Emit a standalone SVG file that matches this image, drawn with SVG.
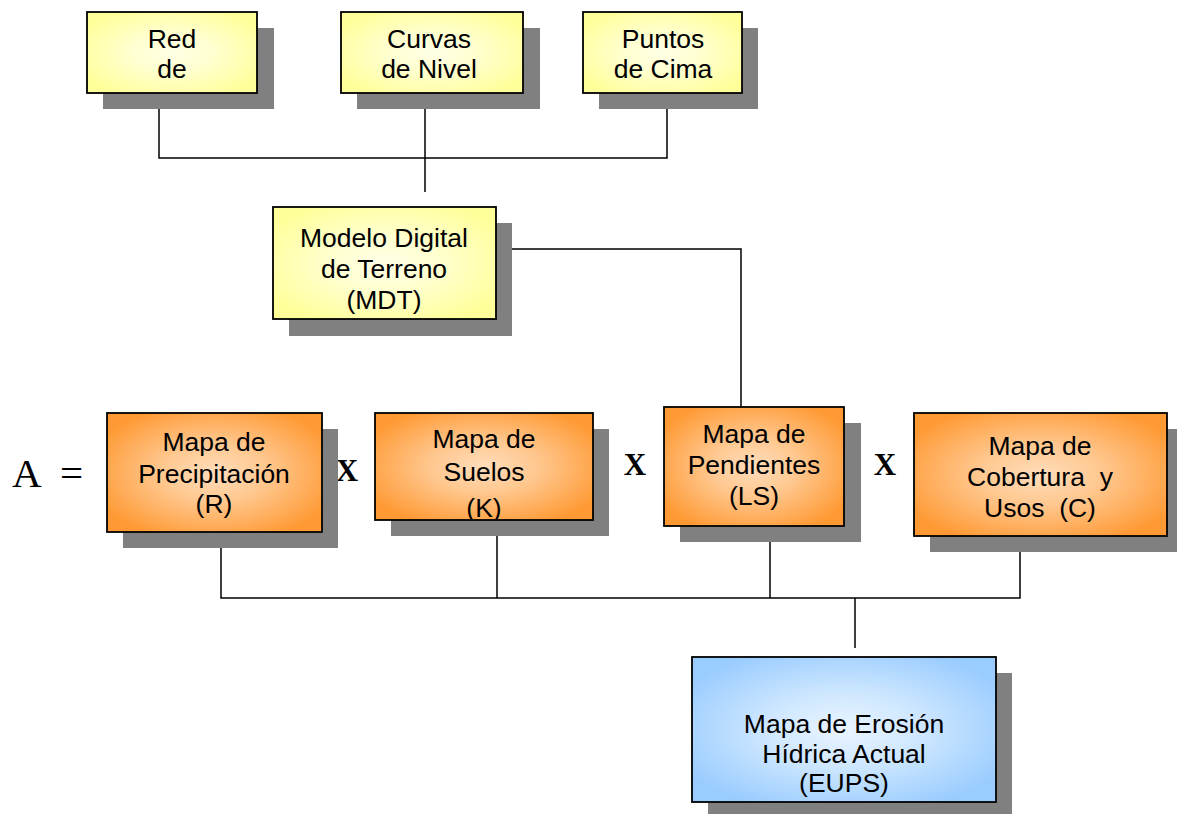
<svg xmlns="http://www.w3.org/2000/svg" width="1177" height="814" viewBox="0 0 1177 814">
<defs>
<radialGradient id="gy" cx="0.5" cy="0.5" r="0.6">
<stop offset="0" stop-color="#FFFFE6"/><stop offset="0.4" stop-color="#FFFFD0"/><stop offset="1" stop-color="#FFFF99"/>
</radialGradient>
<radialGradient id="go" cx="0.5" cy="0.5" r="0.6">
<stop offset="0" stop-color="#FFDDBB"/><stop offset="0.4" stop-color="#FFC890"/><stop offset="1" stop-color="#FF9933"/>
</radialGradient>
<radialGradient id="gb" cx="0.5" cy="0.5" r="0.6">
<stop offset="0" stop-color="#EAF4FF"/><stop offset="0.4" stop-color="#D0E8FF"/><stop offset="1" stop-color="#99CCFF"/>
</radialGradient>
<clipPath id="clipK"><rect x="376" y="414" width="216" height="105"/></clipPath>
</defs>
<style>
.sh{fill:#808080}
.bx{stroke:#000;stroke-width:1.8}
.y{fill:url(#gy)}
.o{fill:url(#go)}
.b{fill:url(#gb)}
.t{font-family:"Liberation Sans",Arial,sans-serif;font-size:26.5px;fill:#000;text-anchor:middle;white-space:pre}
.m{font-family:"Liberation Serif","Times New Roman",serif;fill:#000}
.x{font-family:"Liberation Serif","Times New Roman",serif;font-weight:bold;font-size:31px;fill:#000;text-anchor:middle}
.c{fill:none;stroke:#000;stroke-width:1.5}
</style>
<rect width="1177" height="814" fill="#fff"/>
<g id="connectors">
<polyline class="c" points="159,93 159,158 667,158 667,93"/>
<line class="c" x1="425" y1="93" x2="425" y2="192"/>
<polyline class="c" points="496,249 741,249 741,407"/>
<polyline class="c" points="221,532 221,598 1020,598 1020,536"/>
<line class="c" x1="497" y1="520" x2="497" y2="598"/>
<line class="c" x1="770" y1="526" x2="770" y2="598"/>
<line class="c" x1="855" y1="598" x2="855" y2="648"/>
</g>
<g id="red">
<rect class="sh" x="103" y="28" width="171" height="81"/>
<rect class="bx y" x="87" y="12" width="170" height="81"/>
<text class="t" x="172" y="48">Red</text><text class="t" x="172" y="78">de</text>
</g>
<g id="curvas">
<rect class="sh" x="357" y="28" width="183" height="81"/>
<rect class="bx y" x="341" y="12" width="182" height="81"/>
<text class="t" x="429" y="48">Curvas</text><text class="t" x="429" y="78">de Nivel</text>
</g>
<g id="puntos">
<rect class="sh" x="599" y="28" width="159" height="81"/>
<rect class="bx y" x="583" y="12" width="159" height="81"/>
<text class="t" x="663" y="48">Puntos</text><text class="t" x="663" y="78">de Cima</text>
</g>
<g id="mdt">
<rect class="sh" x="289" y="223" width="223" height="113"/>
<rect class="bx y" x="273" y="207" width="223" height="112"/>
<text class="t" x="384" y="247">Modelo Digital</text><text class="t" x="384" y="278">de Terreno</text><text class="t" x="384" y="309">(MDT)</text>
</g>
<g id="formula">
<text class="m" x="12" y="487" font-size="41">A</text>
<text class="m" x="60" y="487" font-size="41">=</text>
<text class="x" x="347" y="481">X</text>
<text class="x" x="635" y="475">X</text>
<text class="x" x="885" y="475">X</text>
</g>
<g id="precipitacion">
<rect class="sh" x="123" y="429" width="215" height="119"/>
<rect class="bx o" x="107" y="413" width="215" height="119"/>
<text class="t" x="214" y="451">Mapa de</text><text class="t" x="214" y="483">Precipitación</text><text class="t" x="214" y="513">(R)</text>
</g>
<g id="suelos">
<rect class="sh" x="391" y="429" width="218" height="107"/>
<rect class="bx o" x="375" y="413" width="218" height="107"/>
<g clip-path="url(#clipK)">
<text class="t" x="484" y="448">Mapa de</text><text class="t" x="484" y="481">Suelos</text><text class="t" x="484" y="517">(K)</text>
</g>
</g>
<g id="pendientes">
<rect class="sh" x="680" y="423" width="181" height="119"/>
<rect class="bx o" x="664" y="407" width="180" height="119"/>
<text class="t" x="754" y="443">Mapa de</text><text class="t" x="754" y="474">Pendientes</text><text class="t" x="754" y="505">(LS)</text>
</g>
<g id="cobertura">
<rect class="sh" x="930" y="429" width="253" height="123"/>
<rect class="bx o" x="914" y="413" width="253" height="123"/>
<text class="t" x="1040" y="455">Mapa de</text><text class="t" x="1040" y="486">Cobertura  y</text><text class="t" x="1040" y="517">Usos  (C)</text>
</g>
<g id="eups">
<rect class="sh" x="708" y="673" width="304" height="146"/>
<rect class="bx b" x="692" y="657" width="304" height="145"/>
<text class="t" x="844" y="733">Mapa de Erosión</text><text class="t" x="844" y="763">Hídrica Actual</text><text class="t" x="844" y="792">(EUPS)</text>
</g>
</svg>
